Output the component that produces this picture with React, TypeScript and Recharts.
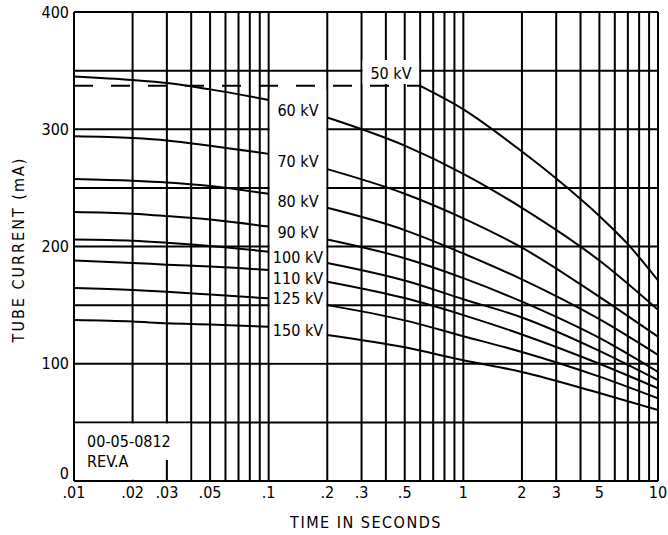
import { LineChart, Line, XAxis, YAxis, CartesianGrid, ReferenceArea, ReferenceLine, ReferenceDot } from "recharts";

const FONT = "'DejaVu Sans Condensed', 'DejaVu Sans', sans-serif";
const INK = "#000";

// log-time grid, 1..9 per decade
const TIME_GRID = [
  0.01, 0.02, 0.03, 0.04, 0.05, 0.06, 0.07, 0.08, 0.09,
  0.1, 0.2, 0.3, 0.4, 0.5, 0.6, 0.7, 0.8, 0.9,
  1, 2, 3, 4, 5, 6, 7, 8, 9, 10,
];
const TIME_TICKS = [0.01, 0.02, 0.03, 0.05, 0.1, 0.2, 0.3, 0.5, 1, 2, 3, 5, 10];
const TIME_TICK_LABELS = [".01", ".02", ".03", ".05", ".1", ".2", ".3", ".5", "1", "2", "3", "5", "10"];

const CURRENT_GRID = [0, 50, 100, 150, 200, 250, 300, 350, 400];
const CURRENT_TICKS = [0, 100, 200, 300, 400];

// exposure times read for each kV curve: short side, then long side of the label column
const SHORT_T = [0.01, 0.02, 0.03, 0.05, 0.1];
const LONG_T = [0.2, 0.5, 1, 2, 5, 10];

const MA_60 = [345, 342, 339.5, 334, 325, 310, 286, 262, 233, 188, 146];
const MA_70 = [294, 292.5, 290.5, 286, 279, 266, 245, 224, 199, 157, 123];
const MA_80 = [257.5, 256, 254.5, 251.5, 245, 233, 214, 194, 172, 138, 107.5];
const MA_90 = [229.5, 228, 226, 223, 217, 206, 190, 173, 153, 122, 93];
const MA_100 = [206, 205, 203.3, 200.5, 195.6, 186, 171, 155, 139.5, 111, 86];
const MA_110 = [188, 186, 184.5, 183, 180, 170, 156, 141.5, 125, 100, 79];
const MA_125 = [164.6, 163, 161.5, 159, 155.8, 150, 137, 123.5, 110, 89, 70.5];
const MA_150 = [137.3, 136, 134.5, 133.5, 131.6, 124.5, 114, 103, 93, 75, 60.6];

// 50 kV: flat limit (dashed), then the falling curve
const LIMIT_T = [0.01, 0.6];
const LIMIT_MA = [337, 337];
const KV50_T = [0.6, 1, 2, 3, 5, 7, 10];
const KV50_MA = [337, 317, 281, 258, 226, 202, 171];

const KV_NAMES = ["60 kV", "70 kV", "80 kV", "90 kV", "100 kV", "110 kV", "125 kV", "150 kV"];
const KV_SERIES = [MA_60, MA_70, MA_80, MA_90, MA_100, MA_110, MA_125, MA_150];
// where each name sits inside the label column (mA)
const KV_NAME_AT = [316.4, 272.3, 238.2, 211.8, 190.8, 172.9, 155.8, 128.2];

const splitSeries = (vals: number[]) => [
  ...SHORT_T.map((t, i) => ({ t, mA: vals[i] })),
  { t: 0.14, mA: null },
  ...LONG_T.map((t, i) => ({ t, mA: vals[SHORT_T.length + i] })),
];
const pairs = (ts: number[], vs: number[]) => ts.map((t, i) => ({ t, mA: vs[i] }));

const timeLabel = (v: number) => {
  const i = TIME_TICKS.findIndex((t) => Math.abs(v - t) / t < 1e-6);
  return i >= 0 ? TIME_TICK_LABELS[i] : "";
};
const currentLabel = (v: number) => (CURRENT_TICKS.includes(v) ? String(v) : "");

const textStyle = { fill: INK, fontSize: 16, fontFamily: FONT };

// y tick: the zero sits a little above the bottom edge so it clears ".01"
const CurrentTick = (p: any) => (
  <text
    x={p.x}
    y={p.y + (p.payload.value === 0 ? -8 : 0)}
    textAnchor="end"
    dominantBaseline="central"
    {...textStyle}
  >
    {currentLabel(p.payload.value)}
  </text>
);

const App = () => {
  return (
    <div style={{ position: "absolute", left: 0, top: 0, background: "#fff" }}>
      <LineChart width={668} height={535} margin={{ top: 12, right: 10, left: 14, bottom: 24 }}>
        <CartesianGrid stroke={INK} strokeWidth={2} />
        <XAxis
          dataKey="t"
          type="number"
          scale="log"
          domain={[0.01, 10]}
          allowDataOverflow
          ticks={TIME_GRID}
          interval={0}
          tickFormatter={timeLabel}
          tickLine={false}
          axisLine={false}
          tickSize={0}
          tickMargin={6}
          height={30}
          tick={textStyle}
          label={{
            content: (p: any) => (
              <text
                x={p.viewBox.x + p.viewBox.width / 2}
                y={p.viewBox.y + 41}
                textAnchor="middle"
                dominantBaseline="central"
                letterSpacing={1.5}
                {...textStyle}
              >
                TIME IN SECONDS
              </text>
            ),
          }}
        />
        <YAxis
          type="number"
          domain={[0, 400]}
          ticks={CURRENT_GRID}
          interval={0}
          tickLine={false}
          axisLine={false}
          tickSize={0}
          tickMargin={5}
          width={60}
          tick={<CurrentTick />}
          label={{
            content: (p: any) => {
              const x = p.viewBox.x + 4;
              const y = p.viewBox.y + p.viewBox.height / 2 + 3;
              return (
                <text
                  x={x}
                  y={y}
                  transform={`rotate(-90, ${x}, ${y})`}
                  textAnchor="middle"
                  dominantBaseline="central"
                  letterSpacing={2}
                  {...textStyle}
                >
                  TUBE CURRENT (mA)
                </text>
              );
            },
          }}
        />

        {/* white panels: kV label column, 50 kV tag, drawing number */}
        <ReferenceArea x1={0.1 * 1.012} x2={0.2 / 1.012} y1={101} y2={333} fill="#fff" fillOpacity={1} stroke="none" />
        <ReferenceArea x1={0.3 * 1.012} x2={0.6 / 1.012} y1={338.6} y2={359} fill="#fff" fillOpacity={1} stroke="none" />
        <ReferenceArea x1={0.01 * 1.012} x2={0.04 / 1.012} y1={1} y2={49} fill="#fff" fillOpacity={1} stroke="none" />
        <ReferenceLine segment={[{ x: 0.03, y: 0 }, { x: 0.03, y: 18 }]} stroke={INK} strokeWidth={2} />

        <Line
          data={pairs(LIMIT_T, LIMIT_MA)}
          dataKey="mA"
          stroke={INK}
          strokeWidth={2}
          strokeDasharray="19 18"
          dot={false}
          isAnimationActive={false}
        />
        <Line
          data={pairs(KV50_T, KV50_MA)}
          dataKey="mA"
          type="monotone"
          stroke={INK}
          strokeWidth={2}
          dot={false}
          isAnimationActive={false}
        />
        {KV_SERIES.map((vals, i) => (
          <Line
            key={KV_NAMES[i]}
            data={splitSeries(vals)}
            dataKey="mA"
            type="monotone"
            stroke={INK}
            strokeWidth={2}
            dot={false}
            connectNulls={false}
            isAnimationActive={false}
          />
        ))}

        {KV_NAMES.map((name, i) => (
          <ReferenceDot
            key={name}
            x={Math.sqrt(0.02)}
            y={KV_NAME_AT[i]}
            r={1}
            fill="none"
            stroke="none"
            label={{ value: name, position: "center", ...textStyle }}
          />
        ))}
        <ReferenceDot
          x={0.425}
          y={347.7}
          r={1}
          fill="none"
          stroke="none"
          label={{ value: "50 kV", position: "center", ...textStyle }}
        />
        <ReferenceDot
          x={0.0105}
          y={33.5}
          r={1}
          fill="none"
          stroke="none"
          label={{ value: "00-05-0812", position: "right", offset: 8, ...textStyle }}
        />
        <ReferenceDot
          x={0.0105}
          y={16.5}
          r={1}
          fill="none"
          stroke="none"
          label={{ value: "REV.A", position: "right", offset: 8, ...textStyle }}
        />
      </LineChart>
    </div>
  );
};

export default App;
